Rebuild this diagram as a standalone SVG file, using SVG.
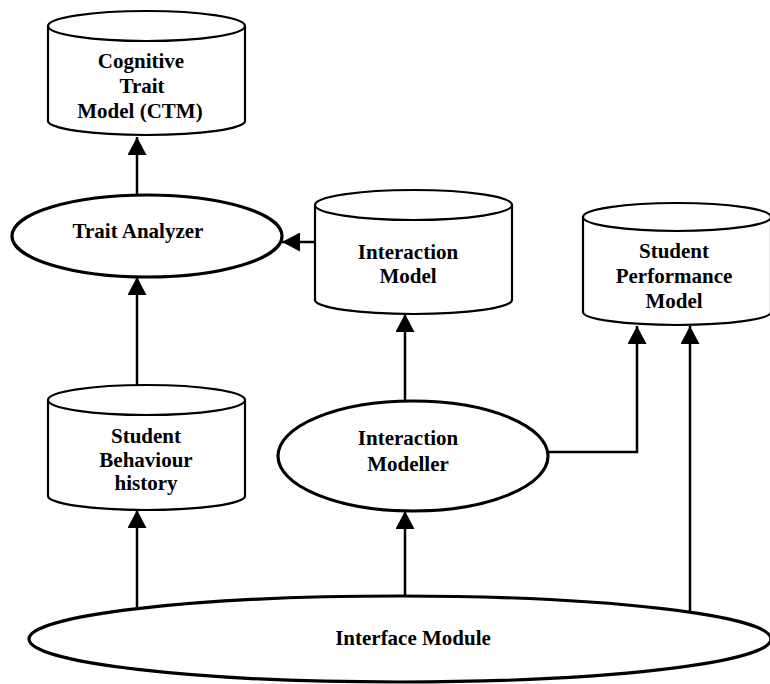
<svg xmlns="http://www.w3.org/2000/svg" width="770" height="684" viewBox="0 0 770 684">
<style>
.cyl{fill:#fff;stroke:#000;stroke-width:2.2}
.ell{fill:#fff;stroke:#000;stroke-width:3.2}
.lbl{font-family:"Liberation Serif","Times New Roman",serif;font-weight:bold;font-size:21px;fill:#000;text-anchor:middle}
.con{fill:none;stroke:#000;stroke-width:2.5}
</style>
<defs>
<marker id="ah" viewBox="0 0 18 19" refX="18" refY="9.5" markerWidth="18" markerHeight="19" markerUnits="userSpaceOnUse" orient="auto">
<path d="M0,0 L18,9.5 L0,19 Z" fill="#000"/>
</marker>
</defs>
<rect width="770" height="684" fill="#fff"/>
<g id="ctm">
<path class="cyl" d="M48,26 L48,121 A98.5,14 0 0 0 245,121 L245,26"/>
<ellipse class="cyl" cx="146.5" cy="26" rx="98.5" ry="15"/>
<text class="lbl" x="141" y="68">Cognitive</text>
<text class="lbl" x="142" y="93">Trait</text>
<text class="lbl" x="140" y="118">Model (CTM)</text>
</g>
<g id="trait-analyzer">
<ellipse class="ell" cx="147" cy="236" rx="135" ry="41"/>
<text class="lbl" x="138" y="238">Trait Analyzer</text>
</g>
<g id="interaction-model">
<path class="cyl" d="M315,205 L315,300 A98.5,14 0 0 0 512,300 L512,205"/>
<ellipse class="cyl" cx="413.5" cy="205" rx="98.5" ry="15"/>
<text class="lbl" x="408" y="259">Interaction</text>
<text class="lbl" x="408" y="283">Model</text>
</g>
<g id="student-performance-model">
<path class="cyl" d="M583,217 L583,312 A94,13 0 0 0 771,312 L771,217"/>
<ellipse class="cyl" cx="677" cy="217" rx="94" ry="14"/>
<text class="lbl" x="674" y="258">Student</text>
<text class="lbl" x="674" y="283">Performance</text>
<text class="lbl" x="674" y="308">Model</text>
</g>
<g id="student-behaviour-history">
<path class="cyl" d="M48,400 L48,496 A98.5,14 0 0 0 245,496 L245,400"/>
<ellipse class="cyl" cx="146.5" cy="400" rx="98.5" ry="15"/>
<text class="lbl" x="146" y="443">Student</text>
<text class="lbl" x="146" y="467">Behaviour</text>
<text class="lbl" x="146" y="490">history</text>
</g>
<g id="interaction-modeller">
<ellipse class="ell" cx="413" cy="456" rx="135" ry="55"/>
<text class="lbl" x="408" y="445">Interaction</text>
<text class="lbl" x="408" y="471">Modeller</text>
</g>
<g id="interface-module">
<ellipse class="ell" cx="400" cy="639" rx="371" ry="43"/>
<text class="lbl" x="413" y="645">Interface Module</text>
</g>
<g id="connectors">
<line class="con" x1="137" y1="195" x2="137" y2="137" marker-end="url(#ah)"/>
<line class="con" x1="137" y1="385" x2="137" y2="277" marker-end="url(#ah)"/>
<line class="con" x1="315" y1="242" x2="282" y2="242" marker-end="url(#ah)"/>
<line class="con" x1="405" y1="401" x2="405" y2="314" marker-end="url(#ah)"/>
<line class="con" x1="405" y1="597" x2="405" y2="511" marker-end="url(#ah)"/>
<line class="con" x1="137" y1="609" x2="137" y2="510" marker-end="url(#ah)"/>
<path class="con" d="M548,452 H637 V326" marker-end="url(#ah)"/>
<line class="con" x1="690" y1="612" x2="690" y2="326" marker-end="url(#ah)"/>
</g>
</svg>
